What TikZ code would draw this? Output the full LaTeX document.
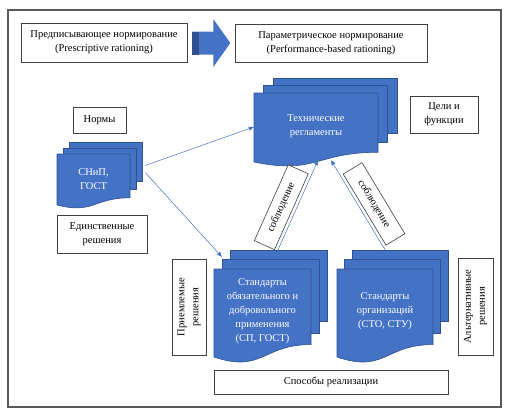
\documentclass[tikz,border=0pt]{standalone}
\usepackage{fontspec}
\setmainfont{Liberation Serif}
\definecolor{docblue}{RGB}{68,114,196}
\definecolor{docedge}{RGB}{47,82,143}
\definecolor{framegray}{RGB}{89,89,89}
\usetikzlibrary{calc, arrows.meta}

\newcommand{\boxfont}{\fontsize{10.5}{14}\selectfont}
% stack of pages: name, x, y (top of front page), width, left height, dx, dy, text
\newcommand{\docstack}[8]{%
  \pgfmathsetmacro{\dsH}{#5/0.934}
  \pgfmathsetmacro{\dsR}{0.802*\dsH}
  \pgfmathsetmacro{\dsD}{1.107*\dsH}
  \foreach \k in {2,1}{
    \draw[docpage] ({#2+\k*#6},{-#3+\k*#7}) rectangle ({#2+#4+\k*#6},{-#3-\dsR+\k*(#7+2)});
  }
  \draw[docpage] (#2,-#3) -- ({#2+#4},-#3) -- ({#2+#4},{-#3-\dsR})
    .. controls ({#2+0.5*#4},{-#3-\dsR}) and ({#2+0.5*#4},{-#3-\dsD}) .. (#2,{-#3-#5}) -- cycle;
  \node[doctext] (#1-txt) at ({#2+0.5*#4},{-#3-0.45*\dsH}) {#8};
  \node[inner sep=0, minimum width={#4+2*#6}, minimum height={#5+2*#7}]
    (#1) at ({#2+0.5*#4+#6},{-#3+#7-0.5*#5}) {};
}

\begin{document}
\begin{tikzpicture}[x=1pt, y=1pt,
    txtbox/.style={draw=black!75, fill=white, text=black, align=center, font=\boxfont,
                   inner sep=2pt, line width=0.6pt},
    docpage/.style={fill=docblue, draw=docedge, line width=0.6pt},
    doctext/.style={text=white, align=center, font=\boxfont},
    link/.style={-{Triangle[length=5pt,width=4pt]}, docblue, line width=0.5pt},
    lblbox/.style={txtbox, minimum width=83, minimum height=22, sloped}]
  \useasboundingbox (0,0) rectangle (508,-416);
  \draw[framegray, line width=1.2pt] (8,-10) rectangle (501,-407);

  % top row
  \node[txtbox, minimum width=166, minimum height=39] (prescr) at (104,-42.5)
    {Предписывающее нормирование\\(Prescriptive rationing)};
  \node[txtbox, minimum width=192, minimum height=38] (perf) at (331,-43)
    {Параметрическое нормирование\\(Performance-based rationing)};
  \coordinate (ba0) at ($(prescr.east)+(5,-0.5)$);
  \fill[docblue] (ba0) ++(0,11.5) -- ++(21,0) -- ++(0,12.5) -- ++(17,-24)
    -- ++(-17,-24) -- ++(0,12.5) -- ++(-21,0) -- cycle;
  \fill[docedge] (ba0) ++(0,11.5) rectangle ++(7,-23);

  % side labels
  \node[txtbox, minimum width=53, minimum height=26] (norms) at (99.5,-120) {Нормы};
  \node[txtbox, minimum width=68, minimum height=37] (goals) at (444,-114.5) {Цели и\\функции};
  \node[txtbox, minimum width=90, minimum height=38] (single) at (102,-234)
    {Единственные\\решения};
  \node[txtbox, rotate=90, minimum width=96, minimum height=34] (accept) at (189,-307)
    {Приемлемые\\решения};
  \node[txtbox, rotate=90, minimum width=97, minimum height=35] (altern) at (475.5,-306.5)
    {Альтернативные\\решения};
  \node[txtbox, minimum width=234, minimum height=24] (ways) at (331,-382)
    {Способы реализации};

  % document stacks
  \docstack{snip}{57}{154}{73}{51}{6}{6}{СНиП,\\ГОСТ}
  \docstack{techreg}{254}{93}{124}{69}{9.5}{7.5}{Технические\\регламенты}
  \docstack{stdnat}{214}{269}{97}{88}{8}{9.5}
    {Стандарты\\обязательного и\\добровольного\\применения\\(СП, ГОСТ)}
  \docstack{stdorg}{337}{269}{96}{88}{7.5}{9.5}{Стандарты\\организаций\\(СТО, СТУ)}

  % connectors
  \draw[link] ([shift={(3,8)}]snip.east) -- ([yshift=-7]techreg.west);
  \draw[link] ([shift={(3,1)}]snip.east) -- ([shift={(8,-7)}]stdnat.north west);
  \draw[link] ([xshift=7.5]stdnat.north) -- ([shift={(-7.5,2)}]techreg.south)
    node[lblbox, pos=0.41, above=3pt] (obs1) {соблюдение};
  \draw[link] ([xshift=-7.5]stdorg.north) -- ([shift={(5.5,2)}]techreg.south)
    node[lblbox, pos=0.43, above=3pt] (obs2) {соблюдение};
\end{tikzpicture}
\end{document}
